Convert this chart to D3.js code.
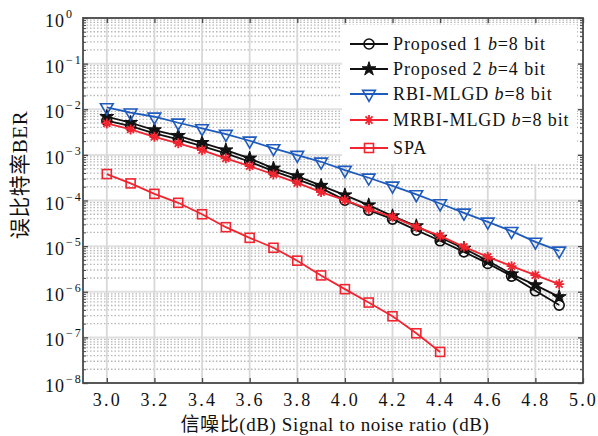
<!DOCTYPE html>
<html>
<head>
<meta charset="utf-8">
<script src="https://cdn.jsdelivr.net/npm/d3@7"></script>
<style>
  html, body { margin: 0; padding: 0; background: #fff; }
  svg { display: block; }
  text { font-family: 'Liberation Serif', 'Noto Sans CJK SC', serif; fill: #111; }
</style>
</head>
<body>
<svg id="chart" width="598" height="436"></svg>
<script>
// ---- data ----
const snr = [3.0, 3.1, 3.2, 3.3, 3.4, 3.5, 3.6, 3.7, 3.8, 3.9, 4.0, 4.1, 4.2, 4.3, 4.4, 4.5, 4.6, 4.7, 4.8, 4.9];
const snrSPA = [3.0, 3.1, 3.2, 3.3, 3.4, 3.5, 3.6, 3.7, 3.8, 3.9, 4.0, 4.1, 4.2, 4.3, 4.4];
const proposed1 = [5.6e-3, 4.28e-3, 2.96e-3, 2.19e-3, 1.56e-3, 1.08e-3, 7.06e-4, 4.41e-4, 2.9e-4, 1.87e-4, 1.02e-4, 6.16e-5, 3.91e-5, 2.24e-5, 1.31e-5, 7.5e-6, 4.18e-6, 2.2e-6, 1.05e-6, 5.1e-7];
const proposed2 = [6.85e-3, 5.06e-3, 3.5e-3, 2.62e-3, 1.84e-3, 1.27e-3, 8.4e-4, 5.06e-4, 3.43e-4, 2.12e-4, 1.31e-4, 7.9e-5, 4.55e-5, 2.75e-5, 1.55e-5, 8.9e-6, 4.76e-6, 2.43e-6, 1.4e-6, 7.7e-7];
const rbiMLGD = [1.1e-2, 8.4e-3, 6.85e-3, 5.06e-3, 3.81e-3, 2.86e-3, 2.04e-3, 1.39e-3, 9.9e-4, 7.06e-4, 4.64e-4, 3.15e-4, 2.1e-4, 1.36e-4, 8.6e-5, 5.37e-5, 3.41e-5, 2.13e-5, 1.24e-5, 7.9e-6];
const mrbiMLGD = [4.9e-3, 3.62e-3, 2.49e-3, 1.79e-3, 1.27e-3, 8.4e-4, 5.68e-4, 3.73e-4, 2.44e-4, 1.53e-4, 1.02e-4, 6.48e-5, 4.39e-5, 2.65e-5, 1.68e-5, 9.66e-6, 5.82e-6, 3.64e-6, 2.31e-6, 1.47e-6];
const spa = [3.8e-4, 2.37e-4, 1.4e-4, 8.9e-5, 5.0e-5, 2.6e-5, 1.52e-5, 9.2e-6, 4.8e-6, 2.28e-6, 1.14e-6, 5.8e-7, 2.9e-7, 1.23e-7, 4.8e-8];
const xTicks = [3.0, 3.2, 3.4, 3.6, 3.8, 4.0, 4.2, 4.4, 4.6, 4.8, 5.0];
const yExponents = [0, -1, -2, -3, -4, -5, -6, -7, -8];
const seriesNames = ["Proposed 1", "Proposed 2", "RBI-MLGD", "MRBI-MLGD", "SPA"];
const seriesBits = ["8", "4", "8", "8", null];
const xLabel = "信噪比(dB) Signal to noise ratio (dB)";
const yLabel = "误比特率BER";

// ---- layout ----
const L = 83, R = 583, T = 18, B = 383;
const FONT = "'Liberation Serif', 'Noto Sans CJK SC', serif";
const svg = d3.select("#chart");
const x = d3.scaleLinear().domain([2.9, 5.0]).range([L, R]);
const y = d3.scaleLog().domain([1e-8, 1]).range([B, T]);

const axisColor = "#4a4a4a";

// grid
const gridG = svg.append("g");
const minorVals = [];
for (let e = -8; e < 0; e++) for (let m = 2; m <= 9; m++) minorVals.push(m * Math.pow(10, e));
gridG.selectAll(".ymin").data(minorVals).join("line")
  .attr("x1", L).attr("x2", R)
  .attr("y1", d => y(d)).attr("y2", d => y(d))
  .attr("stroke", "#b8b8b8").attr("stroke-width", 1.3).attr("stroke-dasharray", "1.5,2");
gridG.selectAll(".ymaj").data(yExponents).join("line")
  .attr("x1", L).attr("x2", R)
  .attr("y1", d => y(Math.pow(10, d))).attr("y2", d => y(Math.pow(10, d)))
  .attr("stroke", "#e0e0e0").attr("stroke-width", 2);
gridG.selectAll(".xmaj").data(xTicks).join("line")
  .attr("x1", d => x(d)).attr("x2", d => x(d))
  .attr("y1", T).attr("y2", B)
  .attr("stroke", "#d8d8d8").attr("stroke-width", 1.8);

// axes via d3 axis (inward ticks)
const yTickVals = yExponents.map(e => Math.pow(10, e));
svg.append("g").attr("transform", `translate(0,${B})`)
  .call(d3.axisBottom(x).tickValues(xTicks).tickSize(-5).tickFormat(d3.format(".1f")))
  .call(g => {
    g.attr("font-family", null).attr("font-size", null);
    g.select(".domain").remove();
    g.selectAll(".tick line").attr("stroke", axisColor).attr("stroke-width", 1.3);
    g.selectAll(".tick text").attr("dy", "0").attr("y", 23)
      .style("font-size", "18px").style("letter-spacing", "2.2px")
      .style("font-family", FONT).attr("fill", "#111");
  });
svg.append("g").attr("transform", `translate(0,${T})`)
  .call(d3.axisTop(x).tickValues(xTicks).tickSize(-5).tickFormat(""))
  .call(g => { g.select(".domain").remove(); g.selectAll(".tick line").attr("stroke", axisColor).attr("stroke-width", 1.3); });
svg.append("g").attr("transform", `translate(${L},0)`)
  .call(d3.axisLeft(y).tickValues(yTickVals).tickSize(-5).tickFormat(""))
  .call(g => { g.select(".domain").remove(); g.selectAll(".tick line").attr("stroke", axisColor).attr("stroke-width", 1.3); });
svg.append("g").attr("transform", `translate(${L},0)`)
  .call(d3.axisLeft(y).tickValues(minorVals).tickSize(-3).tickFormat(""))
  .call(g => { g.select(".domain").remove(); g.selectAll(".tick line").attr("stroke", axisColor).attr("stroke-width", 1); });
svg.append("g").attr("transform", `translate(${R},0)`)
  .call(d3.axisRight(y).tickValues(yTickVals).tickSize(-5).tickFormat(""))
  .call(g => { g.select(".domain").remove(); g.selectAll(".tick line").attr("stroke", axisColor).attr("stroke-width", 1.3); });
svg.append("g").attr("transform", `translate(${R},0)`)
  .call(d3.axisRight(y).tickValues(minorVals).tickSize(-3).tickFormat(""))
  .call(g => { g.select(".domain").remove(); g.selectAll(".tick line").attr("stroke", axisColor).attr("stroke-width", 1); });

// y tick labels with superscripts
const yl = svg.append("g");
yExponents.forEach(e => {
  const yy = y(Math.pow(10, e));
  const t = yl.append("text").attr("x", 45).attr("y", yy + 9)
    .style("font-size", "18px").style("letter-spacing", "1px").style("font-family", FONT);
  t.append("tspan").text("10");
  t.append("tspan").attr("dy", -9).attr("dx", 1).style("font-size", "12px").style("letter-spacing", "2px")
    .text(e === 0 ? "0" : "\u2212" + Math.abs(e));
});

// series
const lineGen = (xs) => d3.line().x((d, i) => x(xs[i])).y(d => y(d));
svg.append("defs").append("clipPath").attr("id", "clip")
  .append("rect").attr("x", L).attr("y", T).attr("width", R - L).attr("height", B - T);

const blue = "#1f5bbd", red = "#f02530", black = "#111";
const series = [
  { vals: proposed1, xs: snr, color: black, marker: "circle" },
  { vals: proposed2, xs: snr, color: black, marker: "star" },
  { vals: rbiMLGD, xs: snr, color: blue, marker: "tri" },
  { vals: mrbiMLGD, xs: snr, color: red, marker: "aster" },
  { vals: spa, xs: snrSPA, color: red, marker: "square" }
];

function drawMarker(g, type, cx, cy, color) {
  if (type === "circle") {
    g.append("circle").attr("cx", cx).attr("cy", cy).attr("r", 5)
      .attr("fill", "none").attr("stroke", color).attr("stroke-width", 1.6);
  } else if (type === "star") {
    g.append("path").attr("transform", `translate(${cx},${cy})`)
      .attr("d", d3.symbol().type(d3.symbolStar).size(60)())
      .attr("fill", color).attr("stroke", color).attr("stroke-width", 1);
  } else if (type === "tri") {
    g.append("path").attr("transform", `translate(${cx},${cy}) rotate(180)`)
      .attr("d", d3.symbol().type(d3.symbolTriangle).size(70)())
      .attr("fill", "none").attr("stroke", color).attr("stroke-width", 1.6);
  } else if (type === "aster") {
    const r = 5;
    const p = d3.path();
    for (let k = 0; k < 4; k++) {
      const a = k * Math.PI / 4;
      p.moveTo(cx - r * Math.cos(a), cy - r * Math.sin(a));
      p.lineTo(cx + r * Math.cos(a), cy + r * Math.sin(a));
    }
    g.append("path").attr("d", p.toString()).attr("stroke", color).attr("stroke-width", 1.8).attr("fill", "none");
  } else if (type === "square") {
    g.append("rect").attr("x", cx - 4.5).attr("y", cy - 4.5).attr("width", 9).attr("height", 9)
      .attr("fill", "none").attr("stroke", color).attr("stroke-width", 1.6);
  }
}

const plotG = svg.append("g").attr("clip-path", "url(#clip)");
series.forEach(s => {
  plotG.append("path").datum(s.vals).attr("d", lineGen(s.xs))
    .attr("fill", "none").attr("stroke", s.color).attr("stroke-width", 1.8);
  const mg = plotG.append("g");
  s.vals.forEach((v, i) => drawMarker(mg, s.marker, x(s.xs[i]), y(v), s.color));
});

// frame
svg.append("rect").attr("x", L).attr("y", T).attr("width", R - L).attr("height", B - T)
  .attr("fill", "none").attr("stroke", axisColor).attr("stroke-width", 1.8);

// legend
const lg = svg.append("g");
lg.append("rect").attr("x", 342).attr("y", 25).attr("width", 235).attr("height", 139).attr("fill", "#fff");
const legY = [44, 69, 94, 120, 148];
series.forEach((s, i) => {
  const yy = legY[i];
  lg.append("line").attr("x1", 350).attr("x2", 388).attr("y1", yy).attr("y2", yy)
    .attr("stroke", s.color).attr("stroke-width", 1.8);
  drawMarker(lg, s.marker, 369, yy, s.color);
  const t = lg.append("text").attr("x", 393).attr("y", yy + 6)
    .style("font-size", "18px").style("letter-spacing", "0.9px").style("font-family", FONT);
  t.append("tspan").text(seriesNames[i]);
  if (seriesBits[i] !== null) {
    t.append("tspan").text(" ");
    t.append("tspan").style("font-style", "italic").text("b");
    t.append("tspan").text("=" + seriesBits[i] + " bit");
  }
});

// axis labels
svg.append("text").attr("x", 335).attr("y", 431).attr("text-anchor", "middle")
  .style("font-size", "19px").style("letter-spacing", "0.6px")
  .style("font-family", FONT)
  .text(xLabel);
svg.append("text").attr("transform", "translate(27,175) rotate(-90)").attr("text-anchor", "middle")
  .style("font-size", "21px").style("letter-spacing", "0.5px")
  .style("font-family", FONT)
  .text(yLabel);
</script>
</body>
</html>
